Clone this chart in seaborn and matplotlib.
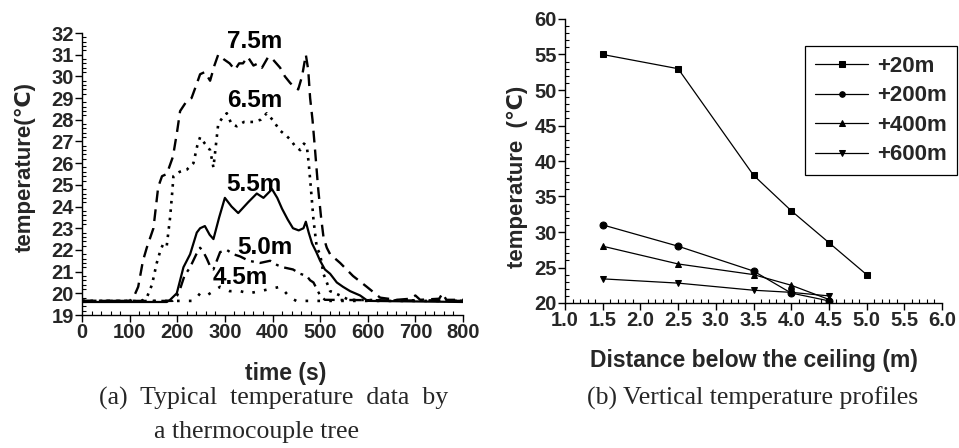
import numpy as np
import pandas as pd
import matplotlib
matplotlib.use("Agg")
import matplotlib.pyplot as plt
from matplotlib.ticker import MultipleLocator
import seaborn as sns

# ---------------- data: (a) thermocouple tree time series ----------------
t_75 = [0, 100, 110, 118, 128, 136, 150, 160, 168, 178, 191, 200, 206, 218, 230, 240, 248, 258,
        269, 278, 286, 297, 310, 321, 330, 338, 348, 360, 370, 378, 391, 400, 416, 426, 437, 446,
        454, 462, 470, 475, 479, 484, 489, 496, 502, 507, 514, 521, 542, 569, 598, 626, 660, 690,
        700, 710, 750, 757, 765, 800]
T_75 = [19.65, 19.65, 19.9, 20.3, 21.5, 22.1, 23.0, 24.9, 25.4, 25.5, 26.3, 27.5, 28.4, 28.8, 29.0,
        29.6, 30.1, 30.2, 29.8, 30.5, 31.0, 30.8, 30.6, 30.3, 30.6, 30.6, 30.9, 30.5, 30.6, 30.4,
        30.9, 30.8, 30.4, 30.0, 29.7, 29.5, 29.4, 30.0, 31.0, 30.3, 29.0, 28.0, 26.7, 24.8, 23.5,
        22.6, 22.1, 21.8, 21.4, 20.8, 20.3, 19.8, 19.7, 19.75, 19.9, 19.7, 19.75, 20.0, 19.7, 19.7]

t_65 = [0, 125, 136, 147, 157, 165, 171, 178, 185, 190, 192, 205, 220, 234, 242, 248, 258, 269,
        276, 281, 286, 295, 304, 314, 325, 340, 360, 375, 388, 400, 416, 427, 437, 447, 458, 466,
        472, 476, 480, 486, 493, 500, 507, 521, 542, 560, 800]
T_65 = [19.65, 19.65, 19.8, 20.4, 21.4, 22.0, 22.3, 22.2, 23.5, 24.8, 25.4, 25.6, 25.7, 26.0, 26.8,
        27.2, 26.9, 26.6, 25.8, 26.8, 27.8, 28.1, 28.3, 27.8, 27.7, 27.9, 27.9, 28.0, 28.3, 28.0,
        27.5, 27.3, 27.1, 26.8, 26.6, 26.9, 26.8, 26.0, 25.0, 23.4, 22.1, 21.8, 20.9, 20.1, 19.9,
        19.7, 19.65]

t_55 = [0, 178, 185, 199, 213, 227, 241, 248, 258, 268, 276, 288, 300, 314, 328, 349, 367, 381,
        399, 410, 420, 432, 443, 455, 465, 470, 476, 483, 492, 500, 510, 521, 535, 548, 563, 584,
        600, 800]
T_55 = [19.6, 19.6, 19.7, 20.0, 21.2, 21.8, 22.8, 23.0, 23.1, 22.7, 22.5, 23.5, 24.4, 24.0, 23.7,
        24.2, 24.6, 24.4, 24.8, 24.4, 23.9, 23.4, 23.0, 22.9, 23.0, 23.3, 22.8, 22.3, 21.9, 21.5,
        21.1, 20.9, 20.5, 20.3, 20.1, 19.9, 19.65, 19.6]

t_50 = [0, 190, 200, 206, 215, 227, 240, 248, 255, 262, 270, 276, 283, 290, 304, 318, 332, 350,
        374, 395, 410, 422, 443, 458, 472, 479, 486, 493, 500, 510, 800]
T_50 = [19.65, 19.65, 19.9, 20.2, 20.8, 21.2, 21.8, 22.1, 21.9, 21.6, 21.2, 21.1, 21.5, 21.9, 22.0,
        21.8, 21.7, 21.5, 21.4, 21.5, 21.3, 21.2, 21.1, 20.9, 20.8, 20.6, 20.5, 20.2, 19.9, 19.7,
        19.65]

t_45 = [0, 235, 241, 248, 262, 276, 290, 310, 332, 350, 374, 395, 416, 425, 437, 450, 800]
T_45 = [19.65, 19.65, 19.8, 20.0, 19.9, 20.1, 20.3, 20.1, 20.1, 20.0, 20.1, 20.2, 20.3, 20.1, 19.8,
        19.65, 19.65]

curve_labels = ["7.5m", "6.5m", "5.5m", "5.0m", "4.5m"]
label_t = [363, 363, 360, 383, 333]
label_T = [31.6, 28.9, 25.0, 22.1, 20.75]

# ---------------- data: (b) vertical temperature profiles ----------------
dist_20 = [1.5, 2.5, 3.5, 4.0, 4.5, 5.0]
temp_20 = [55, 53, 38, 33, 28.5, 24]
dist_200 = [1.5, 2.5, 3.5, 4.0, 4.5]
temp_200 = [31, 28, 24.5, 21.4, 20.3]
dist_400 = [1.5, 2.5, 3.5, 4.0, 4.5]
temp_400 = [28, 25.5, 24, 22.5, 20.5]
dist_600 = [1.5, 2.5, 3.5, 4.0, 4.5]
temp_600 = [23.4, 22.8, 21.8, 21.5, 21.0]
profile_labels = ["+20m", "+200m", "+400m", "+600m"]

# ---------------- style ----------------
sns.set_theme(style="ticks")
plt.rcParams["font.family"] = ["Liberation Sans", "DejaVu Sans"]
plt.rcParams["font.weight"] = "bold"
plt.rcParams["axes.labelweight"] = "bold"

fig = plt.figure(figsize=(9.59, 4.48), dpi=100)
W, H = 959.0, 448.0
ax1 = fig.add_axes([82 / W, 1 - 315 / H, (463 - 82) / W, (315 - 33) / H])
ax2 = fig.add_axes([565 / W, 1 - 303 / H, (942 - 565) / W, (303 - 19) / H])

# ---- panel (a)
series_a = [(t_75, T_75, (0, (5, 3)), 1.7),
            (t_65, T_65, (0, (1, 2.2)), 1.9),
            (t_55, T_55, "-", 1.6),
            (t_50, T_50, (0, (5, 2.5, 1.2, 2.5)), 1.7),
            (t_45, T_45, (0, (1, 3.5)), 1.9)]
for (tt, TT, ls, lw), name in zip(series_a, curve_labels):
    df = pd.DataFrame({"t": tt, "T": TT})
    sns.lineplot(data=df, x="t", y="T", ax=ax1, color="black", linestyle=ls,
                 linewidth=lw, sort=False, estimator=None)
for name, lt, lT in zip(curve_labels, label_t, label_T):
    ax1.text(lt, lT, name, ha="center", va="center", fontsize=17.5, fontweight="bold",
             color="black")

ax1.set_xlim(0, 800)
ax1.set_ylim(19, 32)
ax1.xaxis.set_major_locator(MultipleLocator(100))
ax1.xaxis.set_minor_locator(MultipleLocator(20))
ax1.yaxis.set_major_locator(MultipleLocator(1))
ax1.yaxis.set_minor_locator(MultipleLocator(0.2))
ax1.set_xlabel("")
ax1.set_ylabel("")

# ---- panel (b)
markers = ["s", "o", "^", "v"]
series_b = [(dist_20, temp_20), (dist_200, temp_200), (dist_400, temp_400), (dist_600, temp_600)]
for (dd, tt), mk, name in zip(series_b, markers, profile_labels):
    df = pd.DataFrame({"d": dd, "T": tt})
    sns.lineplot(data=df, x="d", y="T", ax=ax2, color="black", linewidth=0.9,
                 marker=mk, markersize=5, markeredgecolor="black", markerfacecolor="black",
                 label=name, sort=False, estimator=None)
ax2.set_xlim(1.0, 6.0)
ax2.set_ylim(20, 60)
ax2.xaxis.set_major_locator(MultipleLocator(0.5))
ax2.xaxis.set_minor_locator(MultipleLocator(0.1))
ax2.yaxis.set_major_locator(MultipleLocator(5))
ax2.yaxis.set_minor_locator(MultipleLocator(1))
ax2.set_xlabel("")
ax2.set_ylabel("")
leg = ax2.legend(loc="upper left", bbox_to_anchor=(0.637, 0.905), frameon=True,
                 fancybox=False, edgecolor="black", framealpha=1, handlelength=2.4,
                 prop={"weight": "bold", "size": 16}, labelspacing=0.38,
                 borderpad=0.45, handletextpad=0.4, borderaxespad=0, markerscale=0.8)
leg.get_frame().set_linewidth(0.9)

for ax in (ax1, ax2):
    sns.despine(ax=ax)
    ax.spines["left"].set_linewidth(1.0)
    ax.spines["bottom"].set_linewidth(1.0)
    ax.spines["left"].set_color("black")
    ax.spines["bottom"].set_color("black")
    ax.tick_params(axis="both", which="major", direction="out", length=5, width=1,
                   color="black", labelsize=14.5, pad=1)
    ax.tick_params(axis="both", which="minor", direction="in", length=3, width=0.8,
                   color="black")
    for lab in ax.get_xticklabels() + ax.get_yticklabels():
        lab.set_fontweight("bold")

# axis labels / captions
fig.text(25 / W, 1 - 167 / H, "temperature(℃)", rotation=90, ha="center", va="center",
         fontsize=16, fontweight="bold")
fig.text(517 / W, 1 - 177 / H, "temperature  (℃)", rotation=90, ha="center", va="center",
         fontsize=16, fontweight="bold")
fig.text(286 / W, 1 - 373 / H, "time (s)", ha="center", va="center", fontsize=16.5,
         fontweight="bold")
fig.text(754 / W, 1 - 360 / H, "Distance below the ceiling (m)", ha="center", va="center",
         fontsize=16.5, fontweight="bold")
fig.text(274 / W, 1 - 398 / H, "(a)  Typical  temperature  data  by", ha="center",
         va="center", fontsize=18.5, family="Liberation Serif", fontweight="normal")
fig.text(257 / W, 1 - 432 / H, "a thermocouple tree", ha="center", va="center",
         fontsize=18.5, family="Liberation Serif", fontweight="normal")
fig.text(753 / W, 1 - 398 / H, "(b) Vertical temperature profiles", ha="center",
         va="center", fontsize=18.5, family="Liberation Serif", fontweight="normal")

fig.savefig("out.png", dpi=100)
